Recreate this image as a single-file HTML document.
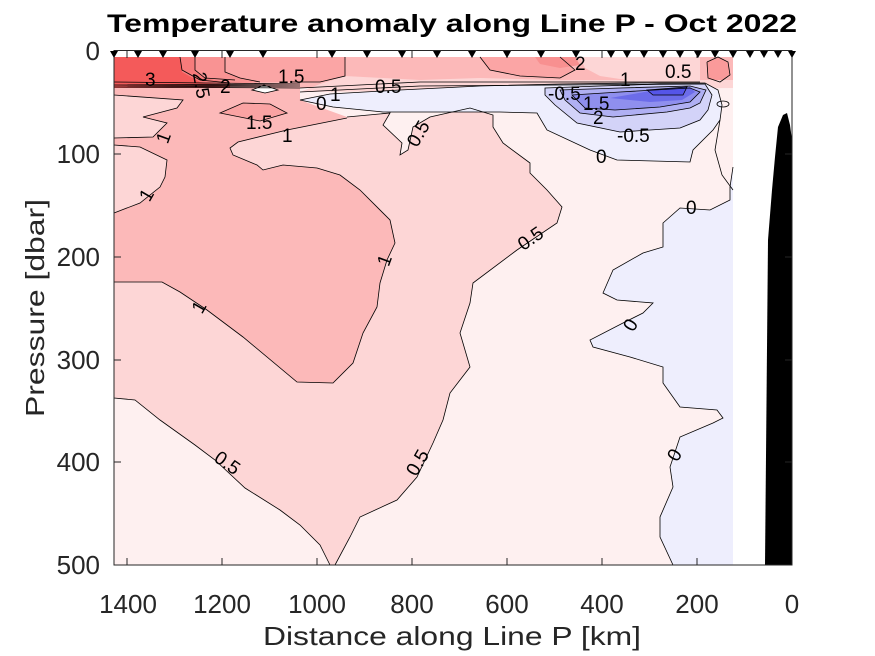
<!DOCTYPE html>
<html><head><meta charset="utf-8"><style>html,body{margin:0;padding:0;background:#fff}svg{display:block}</style></head>
<body>
<svg width="875" height="656" viewBox="0 0 875 656" xmlns="http://www.w3.org/2000/svg" font-family="Liberation Sans, sans-serif">
<rect width="875" height="656" fill="#fff"/>
<g stroke="none">
<rect x="114" y="57" width="619" height="508" fill="#fdd6d6"/>
<polygon fill="#fcb9b9" points="114,84 350,84 347,118 287,130 238,142 230,148 233,155 257,165 263,170 283,165 317,168 340,175 360,190 390,220 395,243 387,260 380,283 377,307 363,333 353,363 333,383 297,382 243,337 207,310 180,292 162,282 114,282"/>
<polygon fill="#fdd6d6" points="114,95 183,100 177,108 143,117 167,123 153,137 114,138"/>
<polygon fill="#fdd6d6" points="114,145 140,147 167,160 165,177 160,187 140,203 114,213"/>
<polygon fill="#faa3a3" points="220,113 243,103 270,104 287,113 260,121"/>
<polygon fill="#fef0f0" points="300,100 347,117 390,113 383,125 402,143 400,155 408,150 413,127 430,117 470,108 493,115 493,127 503,143 530,163 530,173 547,190 562,207 557,223 517,250 473,283 470,303 460,333 470,367 450,393 443,420 433,443 417,477 397,500 360,517 350,537 335,565 733,565 733,88 300,88"/>
<polygon fill="#fef0f0" points="114,398 135,400 160,420 195,445 215,460 245,488 280,510 300,525 320,545 330,565 114,565"/>
<polygon fill="#eeeefd" points="733,167 730,187 730,200 710,210 680,208 663,223 663,247 643,253 613,270 603,293 617,300 653,303 643,313 623,323 590,340 593,347 630,357 663,367 663,383 680,407 717,410 723,418 713,423 680,437 670,467 673,487 660,517 660,537 673,565 733,565"/>
<rect x="114" y="57" width="619" height="28" fill="#fcb9b9"/>
<polygon fill="#f45a5a" points="114,57 180,57 182,70 200,80 230,83 230,88 114,88"/>
<polygon fill="#f77b7b" points="180,57 195,57 195,70 205,78 235,80 228,86 200,82 182,72"/>
<polygon fill="#f99393" points="195,57 225,57 225,72 240,78 260,82 235,84 205,78 195,70"/>
<polygon fill="#fba5a5" points="225,57 345,57 345,76 320,82 290,82 260,82 240,78 225,72"/>
<polygon fill="#fba5a5" points="480,57 560,57 575,70 560,78 520,76 490,70"/>
<polygon fill="#f89090" points="535,57 575,57 580,65 560,68 540,64"/>
<polygon fill="#fdd6d6" points="580,57 700,57 700,80 640,82 600,76 585,68"/>
<polygon fill="#fa9a9a" points="707,62 718,57 728,62 730,75 720,82 708,78"/>
<polygon fill="#fdd6d6" points="345,76 420,80 480,78 560,80 700,80 733,80 733,88 300,92 320,84"/>
<polygon fill="#eeeefd" points="300,100 330,94 400,90 480,86 560,84 640,83 705,83 718,90 722,105 720,120 713,130 693,150 690,162 617,160 590,150 547,130 537,113 500,112 440,112 383,112 333,107"/>
<polygon fill="#d3d3f8" points="545,88 600,86 660,84 705,84 712,95 708,110 700,120 680,128 620,132 577,123 555,105 545,95"/>
<polygon fill="#b0b0f3" points="560,90 620,88 690,86 706,90 700,103 690,108 667,112 613,117 580,113 565,100"/>
<polygon fill="#8f8fee" points="572,95 620,92 690,88 700,92 690,102 660,107 615,110 585,108"/>
<polygon fill="#6c6ce9" points="610,98 650,91 690,87 695,92 682,100 650,102"/>
<polygon fill="#5555e8" points="647,90 687,87 683,95 653,95"/>
<polygon fill="#fff" stroke="#000" stroke-width="0.8" points="252,90 264,85 278,90 265,93"/>
</g>
<g fill="none" stroke="#000" stroke-width="0.8">
<polyline points="347,118 287,130 238,142 230,148 233,155 257,165 263,170 283,165 317,168 340,175 360,190 390,220 395,243 387,260 380,283 377,307 363,333 353,363 333,383 297,382 243,337 207,310 180,292 162,282 114,282"/>
<polyline points="114,95 183,100 177,108 143,117 167,123 153,137 114,138"/>
<polyline points="114,145 140,147 167,160 165,177 160,187 140,203 114,213"/>
<polygon points="220,113 243,103 270,104 287,113 260,121"/>
<polyline points="347,117 390,113 383,125 402,143 400,155 408,150 413,127 430,117 470,108 493,115 493,127 503,143 530,163 530,173 547,190 562,207 557,223 517,250 473,283 470,303 460,333 470,367 450,393 443,420 433,443 417,477 397,500 360,517 350,537 335,565"/>
<polyline points="114,398 135,400 160,420 195,445 215,460 245,488 280,510 300,525 320,545 330,565"/>
<polyline points="733,167 730,187 730,200 710,210 680,208 663,223 663,247 643,253 613,270 603,293 617,300 653,303 643,313 623,323 590,340 593,347 630,357 663,367 663,383 680,407 717,410 723,418 713,423 680,437 670,467 673,487 660,517 660,537 673,565"/>
<polygon points="300,100 330,94 400,90 480,86 560,84 640,83 705,83 718,90 722,105 720,120 713,130 693,150 690,162 617,160 590,150 547,130 537,113 500,112 440,112 383,112 333,107"/>
<polygon points="545,88 600,86 660,84 705,84 712,95 708,110 700,120 680,128 620,132 577,123 555,105 545,95"/>
<polygon points="560,90 620,88 690,86 706,90 700,103 690,108 667,112 613,117 580,113 565,100"/>
<polygon points="572,95 620,92 690,88 700,92 690,102 660,107 615,110 585,108"/>
<polygon points="647,90 687,87 683,95 653,95"/>
<polyline points="180,57 182,70 200,80 230,83"/>
<polyline points="195,57 195,70 205,78 235,80"/>
<polyline points="225,57 225,72 240,78 260,82"/>
<polyline points="345,57 345,76 320,82 290,82"/>
<polyline points="114,82 300,84 114,85 300,86 114,87 300,88"/>
<polyline points="300,88 420,82 560,82 700,82"/>
<polyline points="300,92 420,86 560,85 705,84"/>
<polyline points="480,57 490,70 520,76 560,78 575,70 560,57"/>
<polyline points="707,62 718,57 728,62 730,75 720,82 708,78 707,62"/>
<ellipse cx="723" cy="104" rx="6" ry="3"/>
<polyline points="720,120 715,150 722,175 733,190"/>
</g>
<g font-size="19" fill="#000">
<text x="145" y="86">3</text>
<text x="193" y="87" transform="rotate(80 201 80)">2.5</text>
<text x="220" y="93">2</text>
<text x="278" y="83">1.5</text>
<text x="330" y="101">1</text>
<text x="375" y="93">0.5</text>
<text x="316" y="110">0</text>
<text x="246" y="129">1.5</text>
<text x="282" y="142">1</text>
<text x="158" y="143" transform="rotate(-70 164 137)">1</text>
<text x="142" y="200" transform="rotate(-60 148 195)">1</text>
<text x="380" y="265" transform="rotate(-70 386 260)">1</text>
<text x="195" y="313" transform="rotate(-60 200 308)">1</text>
<text x="402" y="142" transform="rotate(-60 415 132)">0.5</text>
<text x="517" y="245" transform="rotate(-35 530 238)">0.5</text>
<text x="403" y="470" transform="rotate(-60 416 462)">0.5</text>
<text x="213" y="470" transform="rotate(35 228 465)">0.5</text>
<text x="575" y="70">2</text>
<text x="548" y="100">-0.5</text>
<text x="583" y="110">1.5</text>
<text x="593" y="124">2</text>
<text x="617" y="142">-0.5</text>
<text x="596" y="163">0</text>
<text x="665" y="78">0.5</text>
<text x="620" y="86">1</text>
<text x="686" y="214">0</text>
<text x="626" y="330" transform="rotate(-60 632 325)">0</text>
<text x="670" y="460" transform="rotate(-60 676 455)">0</text>
</g>
<polygon fill="#000" points="765,565 768,240 772,190 775,157 778,127 783,115 787,113 790,125 792,140 792,565"/>
<rect x="114" y="50.5" width="678" height="514.5" fill="none" stroke="#262626" stroke-width="1"/>
<g stroke="#262626" stroke-width="1">
<line x1="127" y1="565" x2="127" y2="558"/><line x1="222" y1="565" x2="222" y2="558"/><line x1="317" y1="565" x2="317" y2="558"/><line x1="412" y1="565" x2="412" y2="558"/><line x1="507" y1="565" x2="507" y2="558"/><line x1="602" y1="565" x2="602" y2="558"/><line x1="697" y1="565" x2="697" y2="558"/>
<line x1="127" y1="51" x2="127" y2="58"/><line x1="222" y1="51" x2="222" y2="58"/><line x1="317" y1="51" x2="317" y2="58"/><line x1="412" y1="51" x2="412" y2="58"/><line x1="507" y1="51" x2="507" y2="58"/><line x1="602" y1="51" x2="602" y2="58"/><line x1="697" y1="51" x2="697" y2="58"/>
<line x1="114" y1="154" x2="121" y2="154"/><line x1="114" y1="257" x2="121" y2="257"/><line x1="114" y1="360" x2="121" y2="360"/><line x1="114" y1="462" x2="121" y2="462"/>
<line x1="792" y1="154" x2="785" y2="154"/><line x1="792" y1="257" x2="785" y2="257"/><line x1="792" y1="360" x2="785" y2="360"/><line x1="792" y1="462" x2="785" y2="462"/>
</g>
<g fill="#000">
<path d="M110,51h8l-4,7z M134,51h8l-4,7z M159,51h8l-4,7z M191,51h8l-4,7z M226,51h8l-4,7z M259,51h8l-4,7z M328,51h8l-4,7z M363,51h8l-4,7z M398,51h8l-4,7z M433,51h8l-4,7z M468,51h8l-4,7z M503,51h8l-4,7z M537,51h8l-4,7z M572,51h8l-4,7z M607,51h8l-4,7z M623,51h8l-4,7z M640,51h8l-4,7z M659,51h8l-4,7z M676,51h8l-4,7z M694,51h8l-4,7z M711,51h8l-4,7z M729,51h8l-4,7z M746,51h8l-4,7z M760,51h8l-4,7z M774,51h8l-4,7z M788,51h8l-4,7z"/>
</g>
<g font-size="26" fill="#262626">
<g text-anchor="middle">
<text x="128" y="613">1400</text><text x="222" y="613">1200</text><text x="317" y="613">1000</text><text x="412" y="613">800</text><text x="507" y="613">600</text><text x="602" y="613">400</text><text x="697" y="613">200</text><text x="792" y="613">0</text>
</g>
<g text-anchor="end">
<text x="100" y="60">0</text><text x="100" y="163">100</text><text x="100" y="266">200</text><text x="100" y="369">300</text><text x="100" y="471">400</text><text x="100" y="574">500</text>
</g>
</g>
<text x="452" y="32" text-anchor="middle" font-size="25" font-weight="bold" fill="#000" textLength="690" lengthAdjust="spacingAndGlyphs">Temperature anomaly along Line P - Oct 2022</text>
<text x="452" y="645" text-anchor="middle" font-size="26" fill="#262626" textLength="378" lengthAdjust="spacingAndGlyphs">Distance along Line P [km]</text>
<text transform="translate(44,308) rotate(-90)" text-anchor="middle" font-size="26" fill="#262626" textLength="218" lengthAdjust="spacingAndGlyphs">Pressure [dbar]</text>
</svg>
</body></html>
